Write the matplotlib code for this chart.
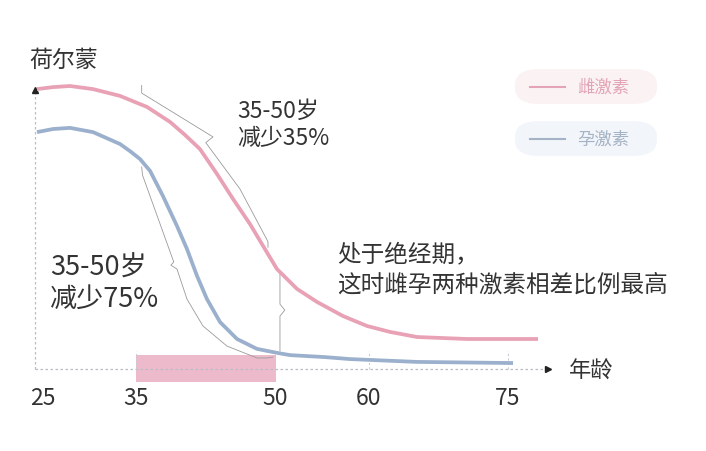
import matplotlib
matplotlib.use("Agg")
import matplotlib.pyplot as plt
from matplotlib.patches import FancyBboxPatch, Rectangle

plt.rcParams['font.family'] = ['Noto Sans CJK SC', 'DejaVu Sans']

# curve values (age, relative hormone level)
pink_age = [24.35, 26.08, 27.90, 30.38, 33.28, 36.18, 38.66, 40.27, 41.88, 43.71, 45.43,
            47.26, 48.66, 50.16, 52.31, 54.46, 57.26, 59.84, 62.31, 65.22, 70.59, 78.23]
pink_level = [98.9, 99.6, 100.0, 98.9, 96.5, 92.6, 87.3, 82.7, 77.7, 68.9, 60.1,
              51.2, 43.5, 35.3, 28.3, 23.7, 18.7, 15.2, 13.1, 11.3, 10.6, 10.6]
blue_age = [24.35, 26.08, 27.90, 30.38, 33.28, 34.35, 35.43, 36.51, 37.90, 39.41, 40.48,
            41.56, 42.63, 44.03, 45.86, 48.01, 50.16, 51.56, 55.32, 58.01, 65.22, 75.54]
blue_level = [83.7, 84.8, 85.2, 83.7, 79.5, 77.0, 74.2, 70.0, 61.1, 50.5, 42.4,
              32.9, 24.7, 16.6, 10.6, 7.1, 5.7, 4.9, 4.2, 3.5, 2.5, 2.1]

tick_ages = [25, 35, 50, 60, 75]
tick_labels = ["25", "35", "50", "60", "75"]
grid_ages = [35, 60, 75]
shade_ages = [35, 50]

# bracket outlines (age, level)
brace_top_age = [35.61, 35.61, 43.28, 42.5, 46.18, 49.19, 49.19]
brace_top_level = [100.2, 97.5, 82.0, 80.0, 63.6, 45.0, 43.0]
brace_mid_age = [50.48, 50.48, 51.0, 50.48, 50.48]
brace_mid_level = [34.3, 22.9, 20.8, 18.7, 6.4]
brace_low_age = [35.61, 35.7, 39.06, 38.75, 39.41, 40.48, 42.20, 44.78, 48.01, 49.09, 49.73]
brace_low_level = [71.4, 68.5, 37.8, 36.7, 35.3, 24.7, 15.2, 8.1, 3.9, 3.9, 4.2]

pink = "#e8a1b5"
blue = "#9bb0cc"
W, H = 706, 452

fig = plt.figure(figsize=(W / 100, H / 100), dpi=100)
ax = fig.add_axes([0, 0, 1, 1])
ax.set_xlim(20.376, 96.29)
ax.set_ylim(-28.98, 130.74)
ax.axis("off")

# axes drawn by hand, dotted
ax.plot([24.14, 79.0], [0, 0], color="#b8bcc4", lw=0.9, ls=(0, (2, 2)))
ax.plot([24.14, 24.14], [0, 97.5], color="#b8bcc4", lw=0.9, ls=(0, (2, 2)))
ax.plot([79.3], [0], marker=">", color="#222222", ms=4.5)
ax.plot([24.14], [98.6], marker="^", color="#222222", ms=4.5)

for a in grid_ages:
    ax.plot([a, a], [0, 6.5], color="#c8ccd4", lw=0.8, ls=(0, (2, 2)))

ax.add_patch(Rectangle((shade_ages[0], -4.6), shade_ages[1] - shade_ages[0], 9.5,
                       facecolor="#ecbacb", edgecolor="none", zorder=1))

for a, lab in zip(tick_ages, tick_labels):
    ax.text(a, -10.0, lab, ha="center", va="center", fontsize=16.5, color="#333333")

ax.plot(brace_top_age, brace_top_level, color="#9a9a9a", lw=0.6)
ax.plot(brace_mid_age, brace_mid_level, color="#9a9a9a", lw=0.6)
ax.plot(brace_low_age, brace_low_level, color="#9a9a9a", lw=0.6)

ax.plot(pink_age, pink_level, color=pink, lw=2.7, solid_capstyle="butt",
        solid_joinstyle="round", zorder=3)
ax.plot(blue_age, blue_level, color=blue, lw=2.7, solid_capstyle="butt",
        solid_joinstyle="round", zorder=3)

def px(x, y):
    return x / W, 1 - y / H

fig.text(*px(29, 60), "荷尔蒙", fontsize=16.5, color="#333333", va="center")
fig.text(*px(569, 371), "年龄", fontsize=16, color="#333333", va="center")
fig.text(*px(237, 125), "35-50岁\n减少35%", fontsize=16.5, color="#333333",
         va="center", linespacing=1.2)
fig.text(*px(50, 284), "35-50岁\n减少75%", fontsize=19.5, color="#333333",
         va="center", linespacing=1.2)
fig.text(*px(337, 270), "处于绝经期，\n这时雌孕两种激素相差比例最高", fontsize=17,
         color="#333333", va="center", linespacing=1.45)

# legend pills
for y0, col, bg, txt in [(70, "#e3a5b5", "#fbf2f4", "雌激素"), (122, "#a5b3c6", "#f2f5f9", "孕激素")]:
    x, y = px(515, y0 + 35)
    fig.patches.append(FancyBboxPatch((x, y), 142 / W, 35 / H, transform=fig.transFigure,
                                      boxstyle="round,pad=0,rounding_size=0.035",
                                      facecolor=bg, edgecolor="none"))
    x1, yl = px(530, y0 + 18)
    x2, _ = px(565, y0 + 18)
    fig.lines.append(plt.Line2D([x1, x2], [yl, yl], transform=fig.transFigure, color=col, lw=1.5))
    fig.text(*px(577, y0 + 18), txt, fontsize=12.5, color=col, va="center")

fig.savefig("out.png", dpi=100)
